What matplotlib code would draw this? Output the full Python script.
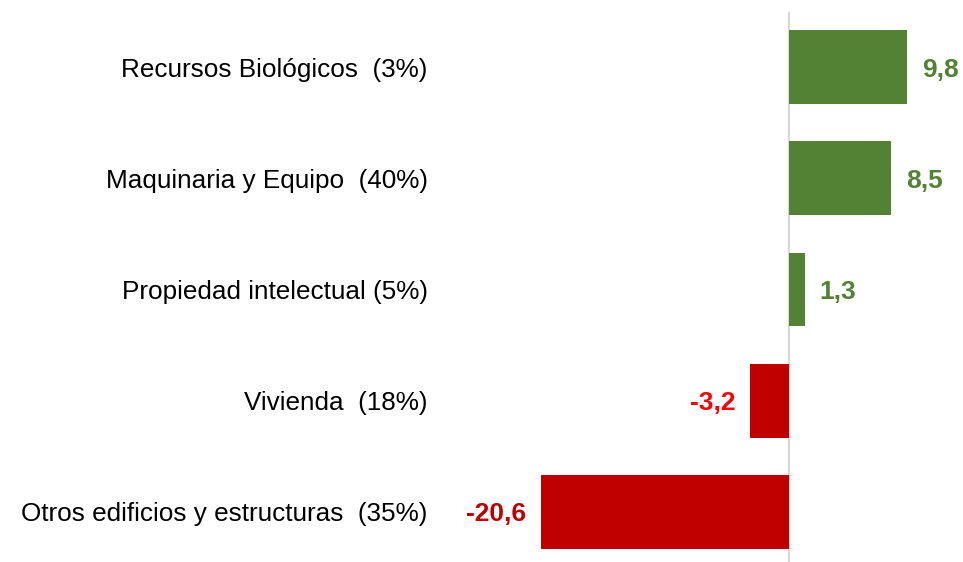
import matplotlib
matplotlib.use("Agg")
import matplotlib.pyplot as plt

categories = [
    "Recursos Biológicos  (3%)",
    "Maquinaria y Equipo  (40%)",
    "Propiedad intelectual (5%)",
    "Vivienda  (18%)",
    "Otros edificios y estructuras  (35%)",
]
values = [9.8, 8.5, 1.3, -3.2, -20.6]
value_labels = ["9,8", "8,5", "1,3", "-3,2", "-20,6"]
bar_colors = ["#548235", "#548235", "#548235", "#C00000", "#C00000"]
label_colors = ["#548235", "#548235", "#548235", "#FF0000", "#C00000"]

plt.rcParams["font.family"] = ["Liberation Sans", "DejaVu Sans"]

W, H = 963, 562
fig = plt.figure(figsize=(W / 100, H / 100), dpi=100)
# axes placed in pixel coords: left 440, right 963, top 12, bottom 562
ax = fig.add_axes([440 / W, 0, 523 / W, (H - 12) / H])

pos = list(range(len(categories)))
ax.barh(pos, values, height=0.665, color=bar_colors, zorder=2)
ax.axvline(0, color="#D9D9D9", lw=1.6, zorder=1)

ax.set_xlim(-28.96, 14.44)
ax.set_ylim(4.45, -0.495)

ax.set_yticks(pos)
ax.set_yticklabels(categories, fontsize=18.8, color="#000000")
ax.tick_params(axis="y", length=0, pad=9)
ax.set_xticks([])
for s in ax.spines.values():
    s.set_visible(False)

for p, v, lab, c in zip(pos, values, value_labels, label_colors):
    off = 15 if v >= 0 else -15
    ax.annotate(lab, xy=(v, p), xytext=(off, 0), textcoords="offset pixels",
                ha="left" if v >= 0 else "right", va="center_baseline",
                fontsize=19, fontweight="bold", color=c)

fig.savefig("out.png", dpi=100, facecolor="white")
